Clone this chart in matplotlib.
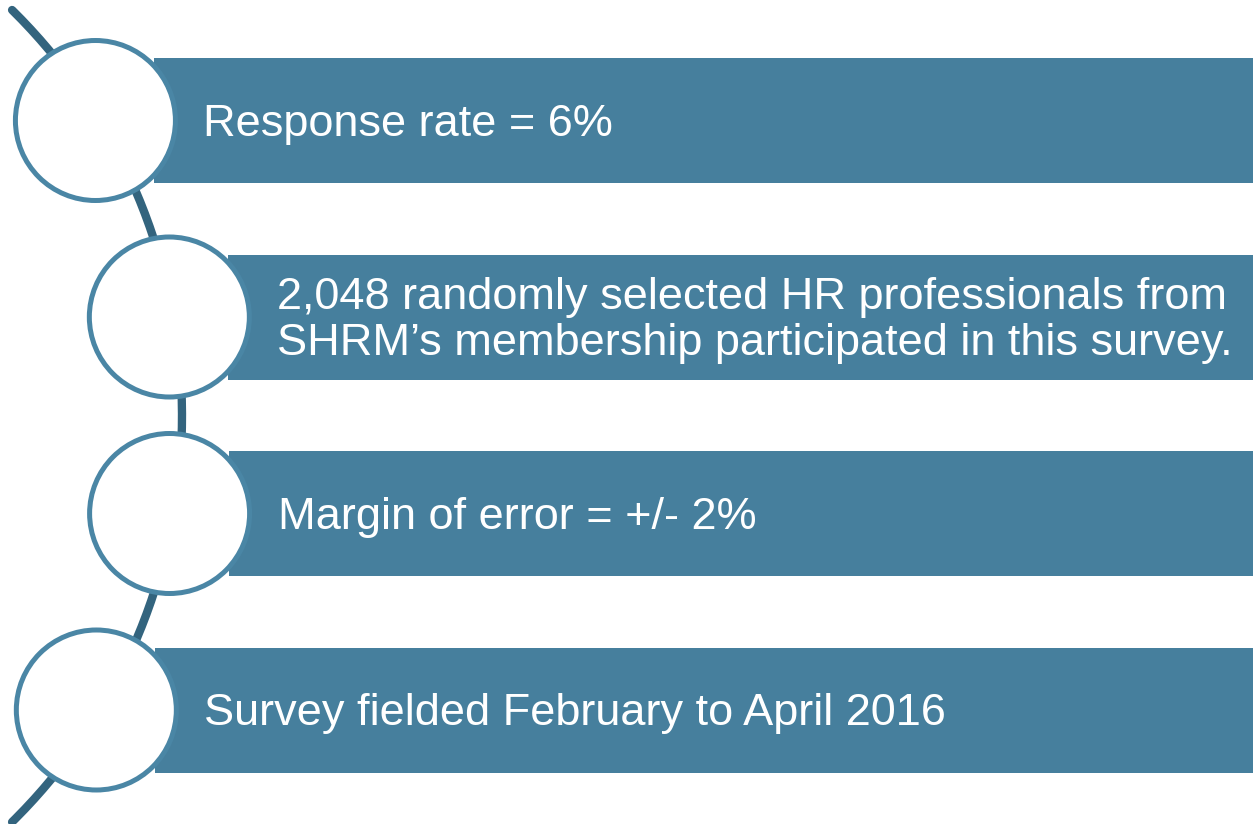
import numpy as np
import matplotlib.pyplot as plt
from matplotlib.patches import Rectangle, Circle

# Conteúdo do diagrama
labels = [
    'Response rate = 6%',
    '2,048 randomly selected HR professionals from\nSHRM\u2019s membership participated in this survey.',
    'Margin of error = +/- 2%',
    'Survey fielded February to April 2016',
]

bar_color = '#467f9d'
ring_color = '#4a86a5'
arc_color = '#33647e'

W, H = 1253, 824
fig = plt.figure(figsize=(W / 100, H / 100), dpi=100)
ax = fig.add_axes([0, 0, 1, 1])
ax.set_xlim(0, W)
ax.set_ylim(H, 0)
ax.axis('off')

# Arco que liga os círculos
arc_cx, arc_cy, arc_r = -388, 416, 570
ang = np.arcsin(406 / arc_r)
t = np.linspace(-ang, ang, 200)
ax.plot(arc_cx + arc_r * np.cos(t), arc_cy + arc_r * np.sin(t),
        color=arc_color, lw=6, solid_capstyle='round', zorder=1)

# Barras, círculos e textos
n = len(labels)
step = 196.5
top = 58
bar_h = 125
circ_r = 80
for i, lab in enumerate(labels):
    yc = top + bar_h / 2 + i * step
    xc = arc_cx + np.sqrt(arc_r ** 2 - (yc - arc_cy) ** 2) - 4
    x0 = xc + 59
    ax.add_patch(Rectangle((x0, yc - bar_h / 2), W - x0 + 5, bar_h,
                           facecolor=bar_color, edgecolor='none', zorder=2))
    ax.add_patch(Circle((xc, yc), circ_r, facecolor='white',
                        edgecolor=ring_color, lw=3.6, zorder=3))
    lines = lab.split('\n')
    for j, ln in enumerate(lines):
        yb = yc + 15 + (j - (len(lines) - 1) / 2) * 45
        ax.text(x0 + 49, yb, ln, color='white', fontsize=32.5,
                family='Liberation Sans', va='baseline', ha='left', zorder=4)

fig.savefig('out.png', dpi=100)
